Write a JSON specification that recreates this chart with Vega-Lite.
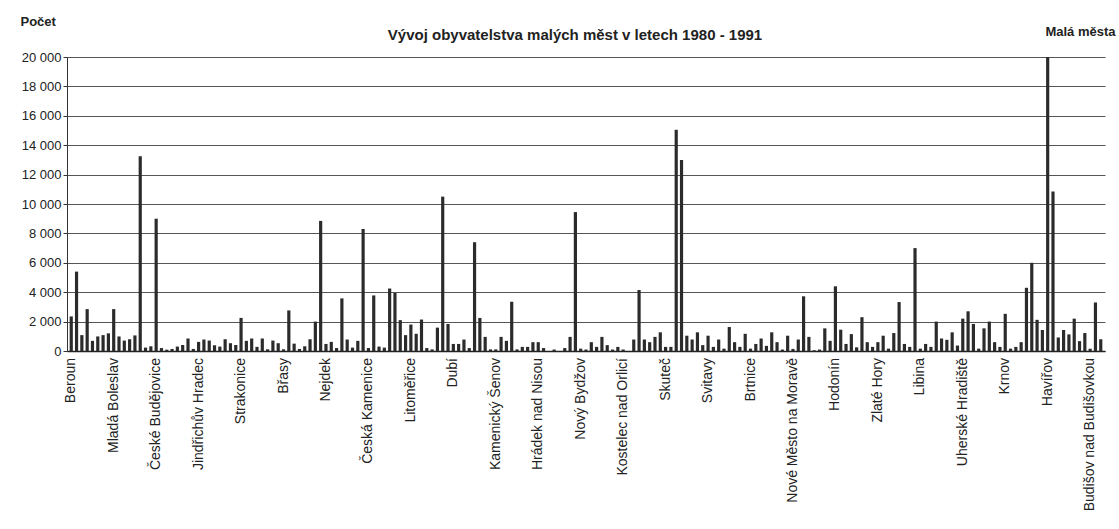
{
  "$schema": "https://vega.github.io/schema/vega-lite/v6.json",
  "width": 1038,
  "height": 294,
  "autosize": {"type": "none"},
  "padding": {"left": 67, "top": 57, "right": 14, "bottom": 178},
  "background": "white",
  "config": {"font": "Liberation Sans", "view": {"stroke": null}},
  "title": {"text": "Vývoj obyvatelstva malých měst v letech 1980 - 1991", "fontSize": 15, "fontWeight": "bold", "font": "Liberation Sans", "color": "#222", "anchor": "middle", "dx": -11, "offset": -28},
  "data": {"values": [
    {"n": 1, "mesto": "Beroun", "pocet": 2350},
    {"n": 2, "mesto": "", "pocet": 5400},
    {"n": 3, "mesto": "", "pocet": 1080},
    {"n": 4, "mesto": "", "pocet": 2850},
    {"n": 5, "mesto": "", "pocet": 690},
    {"n": 6, "mesto": "", "pocet": 990},
    {"n": 7, "mesto": "", "pocet": 1080},
    {"n": 8, "mesto": "", "pocet": 1200},
    {"n": 9, "mesto": "Mladá Boleslav", "pocet": 2850},
    {"n": 10, "mesto": "", "pocet": 990},
    {"n": 11, "mesto": "", "pocet": 710},
    {"n": 12, "mesto": "", "pocet": 800},
    {"n": 13, "mesto": "", "pocet": 1060},
    {"n": 14, "mesto": "", "pocet": 13250},
    {"n": 15, "mesto": "", "pocet": 230},
    {"n": 16, "mesto": "", "pocet": 320},
    {"n": 17, "mesto": "České Budějovice", "pocet": 9000},
    {"n": 18, "mesto": "", "pocet": 200},
    {"n": 19, "mesto": "", "pocet": 90},
    {"n": 20, "mesto": "", "pocet": 140},
    {"n": 21, "mesto": "", "pocet": 300},
    {"n": 22, "mesto": "", "pocet": 410},
    {"n": 23, "mesto": "", "pocet": 850},
    {"n": 24, "mesto": "", "pocet": 140},
    {"n": 25, "mesto": "Jindřichův Hradec", "pocet": 620},
    {"n": 26, "mesto": "", "pocet": 780},
    {"n": 27, "mesto": "", "pocet": 710},
    {"n": 28, "mesto": "", "pocet": 390},
    {"n": 29, "mesto": "", "pocet": 300},
    {"n": 30, "mesto": "", "pocet": 800},
    {"n": 31, "mesto": "", "pocet": 530},
    {"n": 32, "mesto": "", "pocet": 410},
    {"n": 33, "mesto": "Strakonice", "pocet": 2250},
    {"n": 34, "mesto": "", "pocet": 690},
    {"n": 35, "mesto": "", "pocet": 850},
    {"n": 36, "mesto": "", "pocet": 280},
    {"n": 37, "mesto": "", "pocet": 850},
    {"n": 38, "mesto": "", "pocet": 115},
    {"n": 39, "mesto": "", "pocet": 710},
    {"n": 40, "mesto": "", "pocet": 530},
    {"n": 41, "mesto": "Břasy", "pocet": 115},
    {"n": 42, "mesto": "", "pocet": 2760},
    {"n": 43, "mesto": "", "pocet": 500},
    {"n": 44, "mesto": "", "pocet": 140},
    {"n": 45, "mesto": "", "pocet": 320},
    {"n": 46, "mesto": "", "pocet": 800},
    {"n": 47, "mesto": "", "pocet": 2000},
    {"n": 48, "mesto": "", "pocet": 8850},
    {"n": 49, "mesto": "Nejdek", "pocet": 480},
    {"n": 50, "mesto": "", "pocet": 620},
    {"n": 51, "mesto": "", "pocet": 200},
    {"n": 52, "mesto": "", "pocet": 3580},
    {"n": 53, "mesto": "", "pocet": 780},
    {"n": 54, "mesto": "", "pocet": 230},
    {"n": 55, "mesto": "", "pocet": 690},
    {"n": 56, "mesto": "", "pocet": 8300},
    {"n": 57, "mesto": "Česká Kamenice", "pocet": 200},
    {"n": 58, "mesto": "", "pocet": 3780},
    {"n": 59, "mesto": "", "pocet": 300},
    {"n": 60, "mesto": "", "pocet": 230},
    {"n": 61, "mesto": "", "pocet": 4250},
    {"n": 62, "mesto": "", "pocet": 3950},
    {"n": 63, "mesto": "", "pocet": 2100},
    {"n": 64, "mesto": "", "pocet": 1080},
    {"n": 65, "mesto": "Litoměřice", "pocet": 1800},
    {"n": 66, "mesto": "", "pocet": 1170},
    {"n": 67, "mesto": "", "pocet": 2140},
    {"n": 68, "mesto": "", "pocet": 200},
    {"n": 69, "mesto": "", "pocet": 110},
    {"n": 70, "mesto": "", "pocet": 1590},
    {"n": 71, "mesto": "", "pocet": 10500},
    {"n": 72, "mesto": "", "pocet": 1840},
    {"n": 73, "mesto": "Dubí", "pocet": 480},
    {"n": 74, "mesto": "", "pocet": 480},
    {"n": 75, "mesto": "", "pocet": 780},
    {"n": 76, "mesto": "", "pocet": 200},
    {"n": 77, "mesto": "", "pocet": 7400},
    {"n": 78, "mesto": "", "pocet": 2250},
    {"n": 79, "mesto": "", "pocet": 960},
    {"n": 80, "mesto": "", "pocet": 110},
    {"n": 81, "mesto": "Kamenický Šenov", "pocet": 110},
    {"n": 82, "mesto": "", "pocet": 960},
    {"n": 83, "mesto": "", "pocet": 690},
    {"n": 84, "mesto": "", "pocet": 3350},
    {"n": 85, "mesto": "", "pocet": 110},
    {"n": 86, "mesto": "", "pocet": 280},
    {"n": 87, "mesto": "", "pocet": 280},
    {"n": 88, "mesto": "", "pocet": 600},
    {"n": 89, "mesto": "Hrádek nad Nisou", "pocet": 600},
    {"n": 90, "mesto": "", "pocet": 200},
    {"n": 91, "mesto": "", "pocet": 0},
    {"n": 92, "mesto": "", "pocet": 100},
    {"n": 93, "mesto": "", "pocet": 0},
    {"n": 94, "mesto": "", "pocet": 200},
    {"n": 95, "mesto": "", "pocet": 960},
    {"n": 96, "mesto": "", "pocet": 9450},
    {"n": 97, "mesto": "Nový Bydžov", "pocet": 160},
    {"n": 98, "mesto": "", "pocet": 100},
    {"n": 99, "mesto": "", "pocet": 600},
    {"n": 100, "mesto": "", "pocet": 280},
    {"n": 101, "mesto": "", "pocet": 960},
    {"n": 102, "mesto": "", "pocet": 400},
    {"n": 103, "mesto": "", "pocet": 100},
    {"n": 104, "mesto": "", "pocet": 280},
    {"n": 105, "mesto": "Kostelec nad Orlicí", "pocet": 100},
    {"n": 106, "mesto": "", "pocet": 0},
    {"n": 107, "mesto": "", "pocet": 780},
    {"n": 108, "mesto": "", "pocet": 4150},
    {"n": 109, "mesto": "", "pocet": 780},
    {"n": 110, "mesto": "", "pocet": 600},
    {"n": 111, "mesto": "", "pocet": 960},
    {"n": 112, "mesto": "", "pocet": 1270},
    {"n": 113, "mesto": "Skuteč", "pocet": 280},
    {"n": 114, "mesto": "", "pocet": 280},
    {"n": 115, "mesto": "", "pocet": 15050},
    {"n": 116, "mesto": "", "pocet": 13000},
    {"n": 117, "mesto": "", "pocet": 1040},
    {"n": 118, "mesto": "", "pocet": 780},
    {"n": 119, "mesto": "", "pocet": 1270},
    {"n": 120, "mesto": "", "pocet": 400},
    {"n": 121, "mesto": "Svitavy", "pocet": 1040},
    {"n": 122, "mesto": "", "pocet": 280},
    {"n": 123, "mesto": "", "pocet": 780},
    {"n": 124, "mesto": "", "pocet": 160},
    {"n": 125, "mesto": "", "pocet": 1630},
    {"n": 126, "mesto": "", "pocet": 600},
    {"n": 127, "mesto": "", "pocet": 280},
    {"n": 128, "mesto": "", "pocet": 1170},
    {"n": 129, "mesto": "Brtnice", "pocet": 160},
    {"n": 130, "mesto": "", "pocet": 480},
    {"n": 131, "mesto": "", "pocet": 850},
    {"n": 132, "mesto": "", "pocet": 350},
    {"n": 133, "mesto": "", "pocet": 1270},
    {"n": 134, "mesto": "", "pocet": 600},
    {"n": 135, "mesto": "", "pocet": 100},
    {"n": 136, "mesto": "", "pocet": 1040},
    {"n": 137, "mesto": "Nové Město na Moravě", "pocet": 140},
    {"n": 138, "mesto": "", "pocet": 780},
    {"n": 139, "mesto": "", "pocet": 3720},
    {"n": 140, "mesto": "", "pocet": 960},
    {"n": 141, "mesto": "", "pocet": 50},
    {"n": 142, "mesto": "", "pocet": 100},
    {"n": 143, "mesto": "", "pocet": 1540},
    {"n": 144, "mesto": "", "pocet": 690},
    {"n": 145, "mesto": "Hodonín", "pocet": 4400},
    {"n": 146, "mesto": "", "pocet": 1450},
    {"n": 147, "mesto": "", "pocet": 480},
    {"n": 148, "mesto": "", "pocet": 1150},
    {"n": 149, "mesto": "", "pocet": 250},
    {"n": 150, "mesto": "", "pocet": 2300},
    {"n": 151, "mesto": "", "pocet": 600},
    {"n": 152, "mesto": "", "pocet": 280},
    {"n": 153, "mesto": "Zlaté Hory", "pocet": 600},
    {"n": 154, "mesto": "", "pocet": 1040},
    {"n": 155, "mesto": "", "pocet": 160},
    {"n": 156, "mesto": "", "pocet": 1220},
    {"n": 157, "mesto": "", "pocet": 3330},
    {"n": 158, "mesto": "", "pocet": 480},
    {"n": 159, "mesto": "", "pocet": 280},
    {"n": 160, "mesto": "", "pocet": 7000},
    {"n": 161, "mesto": "Libina", "pocet": 160},
    {"n": 162, "mesto": "", "pocet": 480},
    {"n": 163, "mesto": "", "pocet": 280},
    {"n": 164, "mesto": "", "pocet": 2000},
    {"n": 165, "mesto": "", "pocet": 850},
    {"n": 166, "mesto": "", "pocet": 760},
    {"n": 167, "mesto": "", "pocet": 1270},
    {"n": 168, "mesto": "", "pocet": 370},
    {"n": 169, "mesto": "Uherské Hradiště", "pocet": 2200},
    {"n": 170, "mesto": "", "pocet": 2700},
    {"n": 171, "mesto": "", "pocet": 1840},
    {"n": 172, "mesto": "", "pocet": 160},
    {"n": 173, "mesto": "", "pocet": 1540},
    {"n": 174, "mesto": "", "pocet": 2000},
    {"n": 175, "mesto": "", "pocet": 600},
    {"n": 176, "mesto": "", "pocet": 280},
    {"n": 177, "mesto": "Krnov", "pocet": 2530},
    {"n": 178, "mesto": "", "pocet": 160},
    {"n": 179, "mesto": "", "pocet": 280},
    {"n": 180, "mesto": "", "pocet": 600},
    {"n": 181, "mesto": "", "pocet": 4300},
    {"n": 182, "mesto": "", "pocet": 6000},
    {"n": 183, "mesto": "", "pocet": 2120},
    {"n": 184, "mesto": "", "pocet": 1430},
    {"n": 185, "mesto": "Havířov", "pocet": 20000},
    {"n": 186, "mesto": "", "pocet": 10850},
    {"n": 187, "mesto": "", "pocet": 920},
    {"n": 188, "mesto": "", "pocet": 1430},
    {"n": 189, "mesto": "", "pocet": 1130},
    {"n": 190, "mesto": "", "pocet": 2200},
    {"n": 191, "mesto": "", "pocet": 670},
    {"n": 192, "mesto": "", "pocet": 1220},
    {"n": 193, "mesto": "Budišov nad Budišovkou", "pocet": 160},
    {"n": 194, "mesto": "", "pocet": 3300},
    {"n": 195, "mesto": "", "pocet": 800}
  ]},
  "layer": [
    {
      "mark": {"type": "bar", "color": "#2b2b2b"},
      "encoding": {
        "x": {"field": "n", "type": "ordinal", "scale": {"paddingInner": 0.4, "paddingOuter": 0.5},
              "axis": {"labels": false, "ticks": false, "title": null, "grid": false, "domainColor": "#222", "domainWidth": 1.5}},
        "y": {"field": "pocet", "type": "quantitative", "scale": {"domain": [0, 20000], "nice": false},
              "axis": {"values": [0, 2000, 4000, 6000, 8000, 10000, 12000, 14000, 16000, 18000, 20000],
                       "labelExpr": "replace(format(datum.value, ','), ',', ' ')",
                       "title": "Počet", "titleAngle": 0, "titleX": -47, "titleY": -32, "titleAlign": "left", "titleBaseline": "alphabetic",
                       "titleFontSize": 13, "titleFontWeight": "bold", "titleColor": "#222",
                       "gridColor": "#555", "gridWidth": 1, "domainColor": "#333", "tickColor": "#333", "tickSize": 4,
                       "labelFontSize": 13, "labelColor": "#222", "labelPadding": 2}}
      }
    },
    {
      "transform": [{"filter": "datum.mesto != ''"}],
      "mark": {"type": "text", "angle": 270, "align": "right", "baseline": "middle", "dx": -7, "fontSize": 14, "color": "#222"},
      "encoding": {
        "x": {"field": "n", "type": "ordinal"},
        "y": {"datum": 0, "type": "quantitative",
              "axis": {"orient": "right", "labels": false, "ticks": false, "domain": false, "grid": false,
                       "title": "Malá města", "titleAngle": 0, "titleX": 10, "titleY": -22, "titleAlign": "right", "titleBaseline": "alphabetic",
                       "titleFontSize": 13, "titleFontWeight": "bold", "titleColor": "#222"}},
        "text": {"field": "mesto"}
      }
    }
  ],
  "resolve": {"axis": {"y": "independent"}}
}
